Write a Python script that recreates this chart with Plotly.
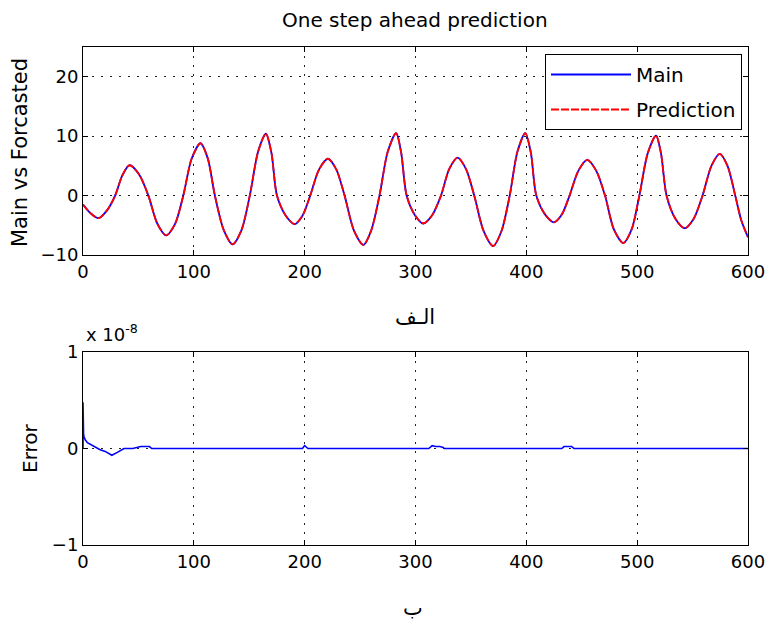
import plotly.graph_objects as go

# Time index samples (key points of the signal)
t_main = [0, 7, 14, 22, 29, 35.5, 42, 50.5, 59, 67, 75, 83, 90.5, 98, 106, 112.5,
          119, 127, 135, 143, 150.5, 158, 165, 170, 175, 183, 191, 198, 205, 213,
          221, 228.5, 236, 244.5, 253, 260, 267.5, 275, 282.5, 287, 292, 299.5,
          307, 315, 323, 330.5, 338, 345.5, 353, 361.5, 370, 377.5, 385, 392,
          399, 404, 409, 417, 425, 432, 439, 447, 455, 463, 471, 479, 487.5,
          495, 502, 509.5, 517, 521.5, 526.5, 534.5, 543, 551, 559, 567, 574.5,
          581.5, 588.5, 594, 600]
main_values = [-1.5, -3.0, -3.8, -2.4, 0.0, 3.4, 5.1, 3.6, 0.0, -4.7, -6.7, -4.8,
               0.0, 6.2, 8.8, 6.3, 0.0, -5.8, -8.2, -5.8, 0.0, 7.4, 10.4, 7.2,
               0.0, -3.4, -4.8, -3.4, 0.0, 4.4, 6.2, 4.4, 0.0, -5.9, -8.3, -5.9,
               0.0, 7.4, 10.5, 7.3, 0.0, -3.3, -4.7, -3.3, 0.0, 4.5, 6.4, 4.5,
               0.0, -6.0, -8.5, -6.0, 0.0, 7.4, 10.5, 7.3, 0.0, -3.2, -4.5, -3.2,
               0.0, 4.2, 6.0, 4.2, 0.0, -5.7, -8.0, -5.7, 0.0, 7.1, 10.1, 7.1,
               0.0, -3.9, -5.5, -3.9, 0.0, 5.0, 7.0, 5.0, 0.0, -4.2, -7.0]
prediction_values = list(main_values)

# Prediction error, in units of 1e-8
t_error = [0, 0, 0.5, 1, 2, 4, 7, 10, 15, 20, 26, 31, 37, 45, 52, 55, 60, 62,
           198, 200, 202, 203, 312, 315, 318, 322, 325, 326, 432, 434, 441, 443, 600]
error_e8 = [0.0, 0.48, 0.15, 0.12, 0.09, 0.06, 0.04, 0.02, -0.01, -0.03, -0.07,
            -0.04, 0.0, 0.0, 0.02, 0.02, 0.02, 0.0, 0.0, 0.03, 0.01, 0.0, 0.0,
            0.03, 0.02, 0.02, 0.01, 0.0, 0.0, 0.02, 0.02, 0.0, 0.0]

x_ticks = [0, 100, 200, 300, 400, 500, 600]
y_ticks_top = [-10, 0, 10, 20]
y_ticks_bottom = [-1, 0, 1]

FONT = "DejaVu Sans"
W, H = 765, 623
ML, MR = 83, 17


def px_x(px):
    return (px - ML) / (W - ML - MR)


def px_y(py):
    return 1 - py / H


fig = go.Figure()
fig.add_trace(go.Scatter(x=t_main, y=main_values, name="Main", mode="lines",
                         legendgroup="main",
                         line=dict(color="#0000ff", width=1.8, shape="spline", smoothing=0.8),
                         xaxis="x", yaxis="y"))
fig.add_trace(go.Scatter(x=t_main, y=prediction_values, name="Prediction", mode="lines",
                         legendgroup="pred",
                         line=dict(color="#ff0000", width=1.8, dash="8px,2px",
                                   shape="spline", smoothing=0.8),
                         xaxis="x", yaxis="y"))
fig.add_trace(go.Scatter(x=t_error, y=error_e8, mode="lines", showlegend=False,
                         line=dict(color="#0000ff", width=1.6),
                         xaxis="x2", yaxis="y2"))

axis_common = dict(showline=True, linecolor="black", linewidth=1, mirror="allticks",
                   ticks="inside", ticklen=5, tickcolor="black", showgrid=True,
                   gridcolor="#222222", gridwidth=1, griddash="2px,7px",
                   zeroline=False, ticklabeloverflow="allow",
                   tickfont=dict(family=FONT, size=18, color="black"))

fig.update_layout(
    width=W, height=H,
    margin=dict(l=ML, r=MR, t=0, b=0, autoexpand=False),
    paper_bgcolor="white", plot_bgcolor="white",
    xaxis=dict(domain=[0, 1], range=[0, 600], tickvals=x_ticks, anchor="y", **axis_common),
    yaxis=dict(domain=[px_y(255), px_y(47)], range=[-10, 25], tickvals=y_ticks_top,
               anchor="x", **axis_common),
    xaxis2=dict(domain=[0, 1], range=[0, 600], tickvals=x_ticks, anchor="y2", **axis_common),
    yaxis2=dict(domain=[px_y(545), px_y(352)], range=[-1, 1], tickvals=y_ticks_bottom,
                anchor="x2", **axis_common),
    legend=dict(x=px_x(742), y=px_y(54), xanchor="right", yanchor="top",
                bgcolor="white", bordercolor="black", borderwidth=1,
                font=dict(family=FONT, size=20, color="black"), itemwidth=80,
                tracegroupgap=6),
    showlegend=True,
)

annotations = [
    dict(text="One step ahead prediction", x=px_x(415), y=px_y(20), size=20),
    dict(text="Main vs Forcasted", x=px_x(20), y=px_y(153), size=21, textangle=-90),
    dict(text="Error", x=px_x(30), y=px_y(448), size=20, textangle=-90),
    dict(text="الـف", x=px_x(415), y=px_y(317), size=21),
    dict(text="ب", x=px_x(413), y=px_y(608), size=21),
]
for a in annotations:
    fig.add_annotation(text=a["text"], x=a["x"], y=a["y"], xref="paper", yref="paper",
                       showarrow=False, xanchor="center", yanchor="middle",
                       textangle=a.get("textangle", 0),
                       font=dict(family=FONT, size=a["size"], color="black"))
fig.add_annotation(text="x 10<sup>-8</sup>", x=px_x(84), y=px_y(333), xref="paper",
                   yref="paper", showarrow=False, xanchor="left", yanchor="middle",
                   font=dict(family=FONT, size=18, color="black"))

fig.write_html("out.html")
